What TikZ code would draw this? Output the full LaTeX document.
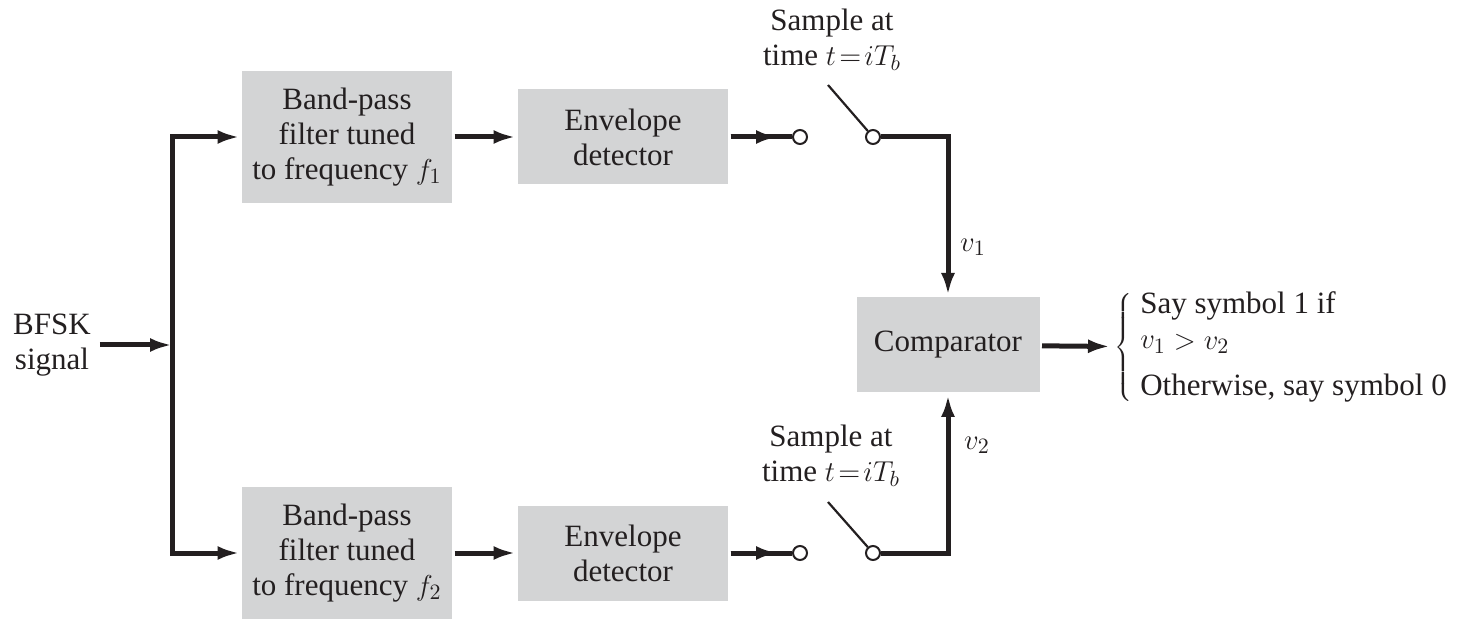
\documentclass[tikz,border=0pt]{standalone}
\usepackage{fontspec}
\setmainfont{Liberation Serif}
\usetikzlibrary{arrows.meta,calc,positioning}
\definecolor{boxgray}{RGB}{211,212,213}
\definecolor{ink}{RGB}{35,31,32}

\begin{document}
\begin{tikzpicture}[x=1pt,y=1pt]
\useasboundingbox (0,0) rectangle (731.5,-310);

\begin{scope}[node distance=138pt,line width=2.5pt,draw=ink,>={Latex[length=11pt,width=7pt]},
  every node/.style={align=center,text=ink,font=\rmfamily\fontsize{15.5pt}{17.5pt}\selectfont},
  block/.style={rectangle,fill=boxgray,minimum width=105pt,minimum height=47.5pt,inner sep=2pt},
  term/.style={circle,draw=ink,fill=white,line width=1pt,inner sep=0,minimum size=7pt}]
% Nodes
\node[block,minimum height=66pt] at (173.5,-68.5) (bp1) {Band-pass\\filter tuned\\to frequency $f_1$};
\node[block,right of = bp1] (env1) {Envelope\\detector};
\node[block,minimum height=66pt,below of = bp1,yshift=-70pt] (bp2) {Band-pass\\filter tuned\\to frequency $f_2$};
\node[block,right of = bp2] (env2) {Envelope\\detector};

\node[term,right of = env1,xshift=-49.5pt] (sa1) {};
\node[term,right of = sa1,node distance=36.5pt] (sb1) {};
\node[term,right of = env2,xshift=-49.5pt] (sa2) {};
\node[term,right of = sa2,node distance=36.5pt] (sb2) {};

\node[block,minimum width=91.5pt,right of = env1,xshift=24.5pt,yshift=-104pt] (comp) {Comparator};

\node at (26,-172.5) (inp) {BFSK\\signal};
\coordinate (split) at (86,-172.5);
\coordinate (arm1) at (414,-42.5);
\coordinate (arm2) at (414,-251);

\node at (416,-20) (samp1) {Sample at\\time $t\!=\!iT_b$};
\node at (415.5,-228) (samp2) {Sample at\\time $t\!=\!iT_b$};
\node at (486.5,-123.5) (lv1) {$v_1$};
\node at (488.5,-222.5) (lv2) {$v_2$};

\node[anchor=west,inner sep=1pt] at (555,-174) (dec) {$\left\{\;\begin{tabular}{@{}l@{}}Say symbol 1 if\\ $v_1>v_2$\\[6pt] Otherwise, say symbol 0\end{tabular}\right.$};

%arcs
\path (inp) edge[->] (split);
\draw[->] (split) |- (bp1);
\draw[->] (split) |- (bp2);
\path (bp1) edge[->] (env1);
\path (bp2) edge[->] (env2);

\path (env1) edge (sa1);
\path (env1) edge[->,shorten >=7pt] (sa1);
\path (env2) edge (sa2);
\path (env2) edge[->,shorten >=7pt] (sa2);

\draw[line width=1.1pt] (sb1) -- (arm1);
\draw[line width=1.1pt] (sb2) -- (arm2);
\draw[->] (sb1) -| (comp);
\draw[->] (sb2) -| (comp);

\path (comp) edge[->] (dec);
\end{scope}

\end{tikzpicture}
\end{document}
